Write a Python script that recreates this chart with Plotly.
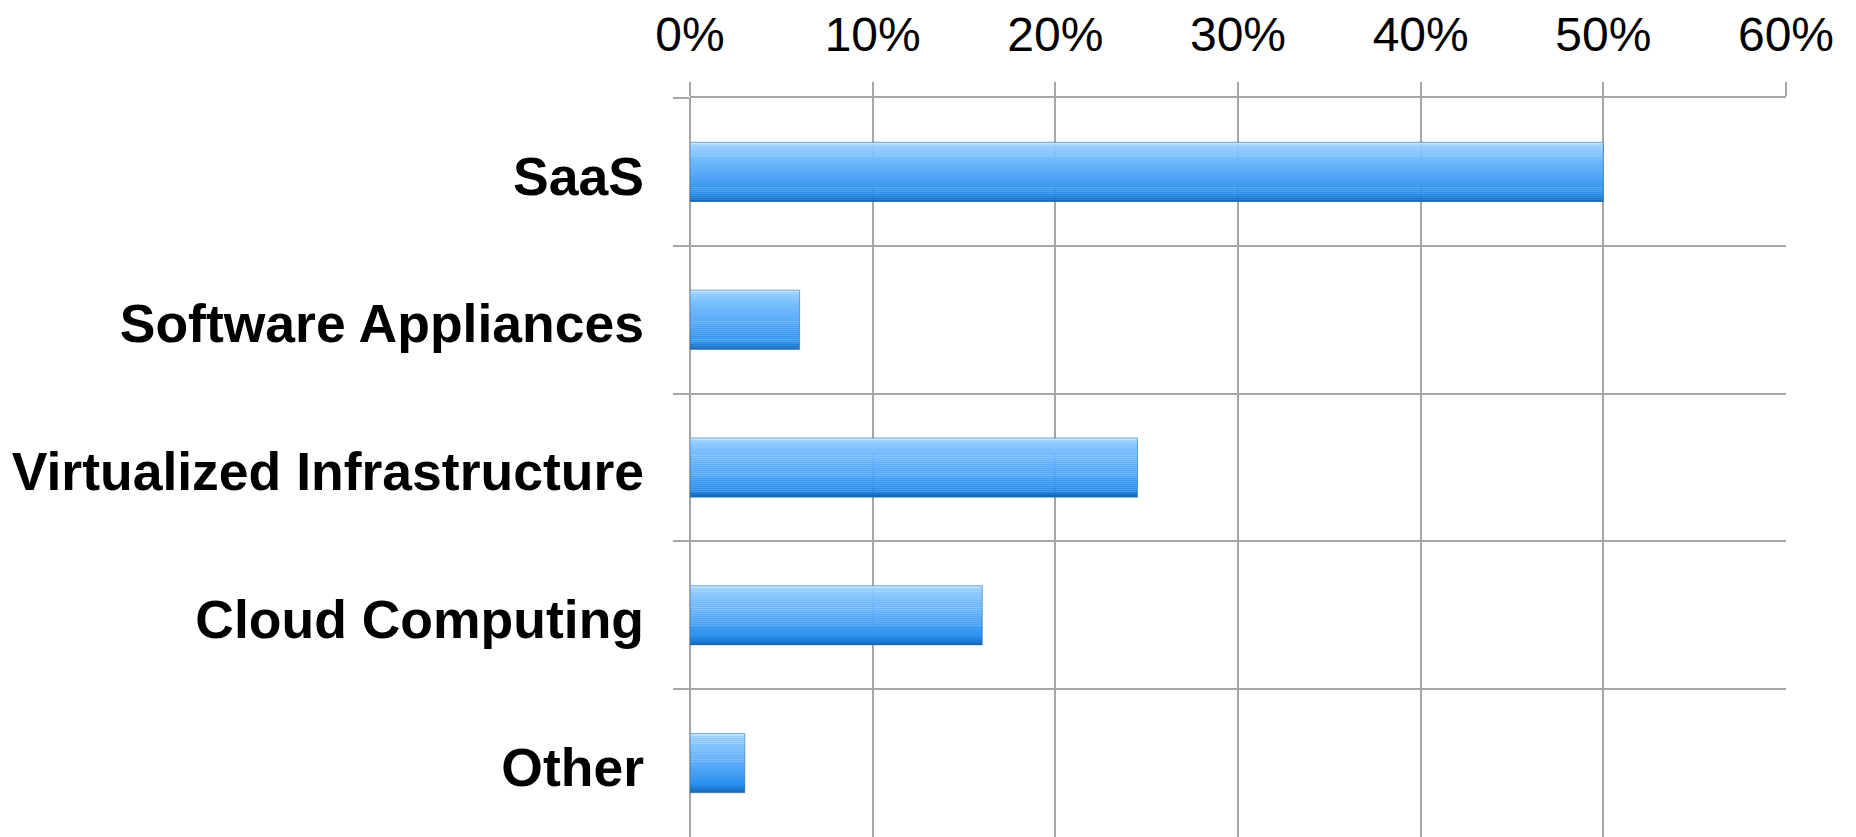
import plotly.graph_objects as go

categories = ["SaaS", "Software Appliances", "Virtualized Infrastructure", "Cloud Computing", "Other"]
values = [50, 6, 24.5, 16, 3]
tick_vals = [0, 10, 20, 30, 40, 50, 60]
tick_text = ["0%", "10%", "20%", "30%", "40%", "50%", "60%"]

GRID = "#a6a6a6"
BAR_W = 0.4

fig = go.Figure()

# gradient bars built from horizontal stripes (top light -> bottom darker)
stops = [(0.0, (215, 238, 255)), (0.06, (150, 205, 255)), (0.2, (125, 192, 255)),
         (0.55, (85, 168, 248)), (0.85, (45, 145, 238)), (0.93, (28, 125, 220)),
         (1.0, (22, 100, 175))]


def lerp_color(t):
    for (t0, c0), (t1, c1) in zip(stops[:-1], stops[1:]):
        if t0 <= t <= t1:
            f = (t - t0) / (t1 - t0) if t1 > t0 else 0
            return "rgb(%d,%d,%d)" % tuple(round(a + (b - a) * f) for a, b in zip(c0, c1))
    return "rgb(%d,%d,%d)" % stops[-1][1]


n = 30
sw = BAR_W / n
for i in range(n):
    t = (i + 0.5) / n
    fig.add_trace(go.Bar(
        x=values, y=categories, orientation="h",
        width=sw * 1.1, offset=-BAR_W / 2 + i * sw,
        marker=dict(color=lerp_color(t), line=dict(width=0)),
        showlegend=False, hoverinfo="skip",
    ))

# faint outline
fig.add_trace(go.Bar(
    x=values, y=categories, orientation="h",
    width=BAR_W, offset=-BAR_W / 2,
    marker=dict(color="rgba(0,0,0,0)", line=dict(color="rgba(30,105,185,0.55)", width=1)),
    showlegend=False, hovertemplate="%{y}: %{x}%<extra></extra>",
))

fig.update_layout(
    width=1856, height=837,
    margin=dict(l=690, r=70, t=98, b=0, autoexpand=False),
    paper_bgcolor="white", plot_bgcolor="white",
    barmode="overlay",
    font=dict(family="Liberation Sans, Arial, sans-serif", color="black"),
    xaxis=dict(
        side="top", range=[0, 60], tickvals=tick_vals, ticktext=tick_text,
        showgrid=True, gridcolor=GRID, gridwidth=2,
        zeroline=True, zerolinecolor=GRID, zerolinewidth=2,
        ticks="outside", ticklen=14, tickwidth=2, tickcolor=GRID,
        tickfont=dict(size=48, family="Liberation Sans, Arial, sans-serif"),
        ticklabelstandoff=12, automargin=False,
        showline=True, linecolor=GRID, linewidth=2, fixedrange=True,
    ),
    yaxis=dict(
        type="category", categoryorder="array", categoryarray=categories,
        autorange="reversed", tickson="boundaries",
        showgrid=True, gridcolor=GRID, gridwidth=2,
        ticks="outside", ticklen=16, tickwidth=2, tickcolor=GRID,
        tickfont=dict(size=53.5, family="Liberation Sans, Arial, sans-serif", weight="bold"),
        ticklabelstandoff=45, ticklabelshift=-4, automargin=False,
        showline=False, fixedrange=True,
    ),
)

fig.write_html("out.html", config={"displayModeBar": False},
               post_script="document.body.style.margin='0';")
